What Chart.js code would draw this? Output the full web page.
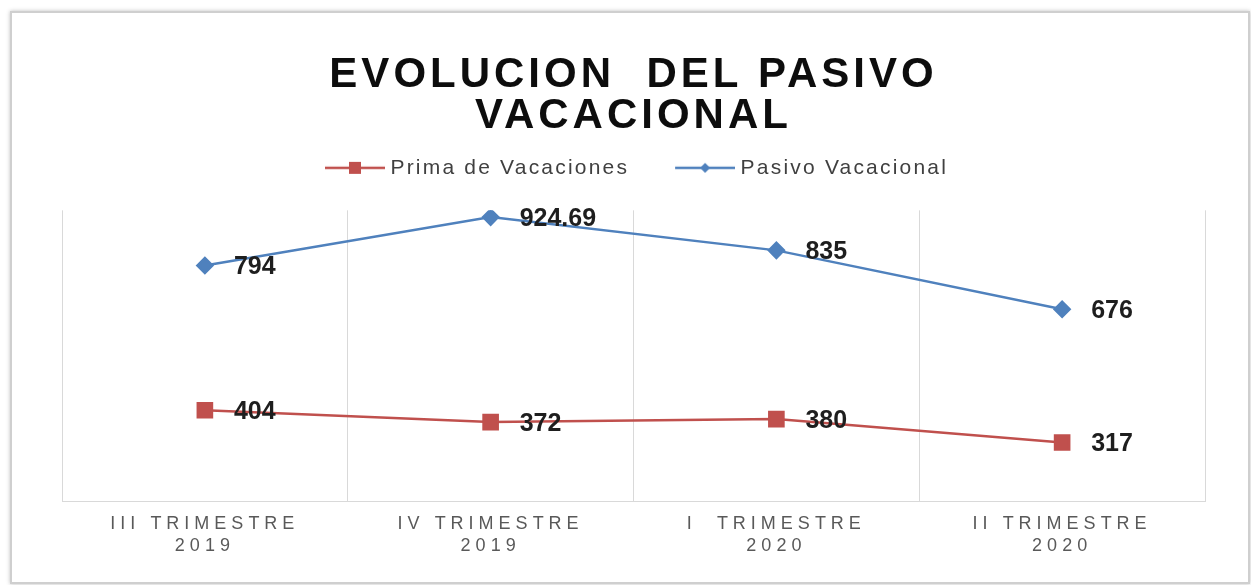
<!DOCTYPE html>
<html>
<head>
<meta charset="utf-8">
<script src="https://cdn.jsdelivr.net/npm/chart.js"></script>
<style>
html, body { margin: 0; padding: 0; background: #fff; }
#frame { position: absolute; left: 10px; top: 11px; width: 1236px; height: 569px;
  border: 2px solid #cfcfcf; box-shadow: 0 0 4px rgba(0,0,0,0.25); background: #fff; }
#wrap { position: absolute; left: 0; top: 0; width: 1251px; height: 585px; }
</style>
</head>
<body>
<div id="frame"></div>
<div id="wrap"><canvas id="chart" width="1251" height="585"></canvas></div>
<script>
// data
const categories = [['III TRIMESTRE', '2019'], ['IV TRIMESTRE', '2019'], ['I  TRIMESTRE', '2020'], ['II TRIMESTRE', '2020']];
const primaVacaciones = [404, 372, 380, 317];
const pasivoVacacional = [794, 924.69, 835, 676];
const seriesNames = ['Prima de Vacaciones', 'Pasivo Vacacional'];
const titleLines = ['EVOLUCION  DEL PASIVO', 'VACACIONAL'];

const RED = '#C0504D';
const BLUE = '#4F81BD';
const FONT = '"Liberation Sans", Arial, sans-serif';

// legend icon: line with marker (excel style)
function legendIcon(color, style) {
  const c = document.createElement('canvas');
  c.width = 101; c.height = 20;
  const g = c.getContext('2d');
  g.strokeStyle = color; g.lineWidth = 2.5;
  g.beginPath(); g.moveTo(41, 10); g.lineTo(101, 10); g.stroke();
  g.fillStyle = color;
  if (style === 'rect') g.fillRect(71 - 6, 10 - 6, 12, 12);
  else { g.beginPath(); g.moveTo(71, 5); g.lineTo(76, 10); g.lineTo(71, 15); g.lineTo(66, 10); g.closePath(); g.fill(); }
  return c;
}
const icons = [legendIcon(RED, 'rect'), legendIcon(BLUE, 'diamond')];

// wrap a draw/fit method so its text gets letter spacing (and optional x shift)
function spaced(obj, fn, sp, dx) {
  if (!obj || obj['_sp_' + fn]) return;
  const orig = obj[fn];
  obj[fn] = function (...a) {
    const ctx = this.ctx;
    ctx.save(); ctx.letterSpacing = sp;
    if (dx) ctx.translate(dx, 0);
    const r = orig.apply(this, a);
    ctx.restore();
    return r;
  };
  obj['_sp_' + fn] = true;
}

const spacingPlugin = {
  id: 'spacing',
  beforeLayout(chart) {
    spaced(chart.titleBlock, 'draw', '4px');
    spaced(chart.legend, 'fit', '2.2px');
    spaced(chart.legend, 'draw', '2.2px', -15);
  },
  beforeDraw(chart) {
    spaced(chart.scales.x, 'drawLabels', '5px');
  }
};

const valueLabels = {
  id: 'valueLabels',
  afterDatasetsDraw(chart) {
    const ctx = chart.ctx;
    ctx.save();
    ctx.font = 'bold 25px ' + FONT;
    ctx.fillStyle = '#1e1e1e';
    ctx.textAlign = 'left';
    ctx.textBaseline = 'middle';
    chart.data.datasets.forEach((ds, i) => {
      chart.getDatasetMeta(i).data.forEach((pt, j) => {
        ctx.fillText(String(ds.data[j]), pt.x + 29, pt.y + 2);
      });
    });
    ctx.restore();
  }
};

new Chart(document.getElementById('chart'), {
  type: 'line',
  data: {
    labels: categories,
    datasets: [
      { label: seriesNames[0], data: primaVacaciones, borderColor: RED, backgroundColor: RED,
        borderWidth: 2.5, pointStyle: 'rect', pointRadius: 10, pointHoverRadius: 10, tension: 0 },
      { label: seriesNames[1], data: pasivoVacacional, borderColor: BLUE, backgroundColor: BLUE,
        borderWidth: 2.5, pointStyle: 'rectRot', pointRadius: 7.5, pointHoverRadius: 7.5, tension: 0 }
    ]
  },
  options: {
    responsive: false,
    animation: false,
    layout: { padding: { top: 0, left: 62, right: 46, bottom: 16 } },
    plugins: {
      title: {
        display: true,
        text: titleLines,
        color: '#0d0d0d',
        font: { family: FONT, size: 42, weight: 'bold', lineHeight: 0.98 },
        padding: { top: 55, bottom: 10 }
      },
      legend: {
        position: 'top',
        labels: {
          usePointStyle: true,
          pointStyleWidth: 91,
          padding: 10,
          color: '#404040',
          font: { family: FONT, size: 21 },
          generateLabels(chart) {
            const items = Chart.defaults.plugins.legend.labels.generateLabels(chart);
            items.forEach((it, i) => { it.pointStyle = icons[i]; });
            return items;
          }
        }
      },
      tooltip: { enabled: false }
    },
    scales: {
      x: {
        offset: true,
        grid: { offset: true, color: '#d9d9d9', lineWidth: 1, drawTicks: false },
        border: { display: true, color: '#d9d9d9' },
        ticks: { color: '#595959', padding: 12, font: { family: FONT, size: 18, lineHeight: 1.22 }, maxRotation: 0 }
      },
      xTop: {
        type: 'category',
        position: 'top',
        grid: { display: false },
        border: { display: false },
        ticks: { display: false },
        afterFit(s) { s.height = 22; }
      },
      y: { display: false, min: 159, max: 943 }
    }
  },
  plugins: [spacingPlugin, valueLabels]
});
</script>
</body>
</html>
